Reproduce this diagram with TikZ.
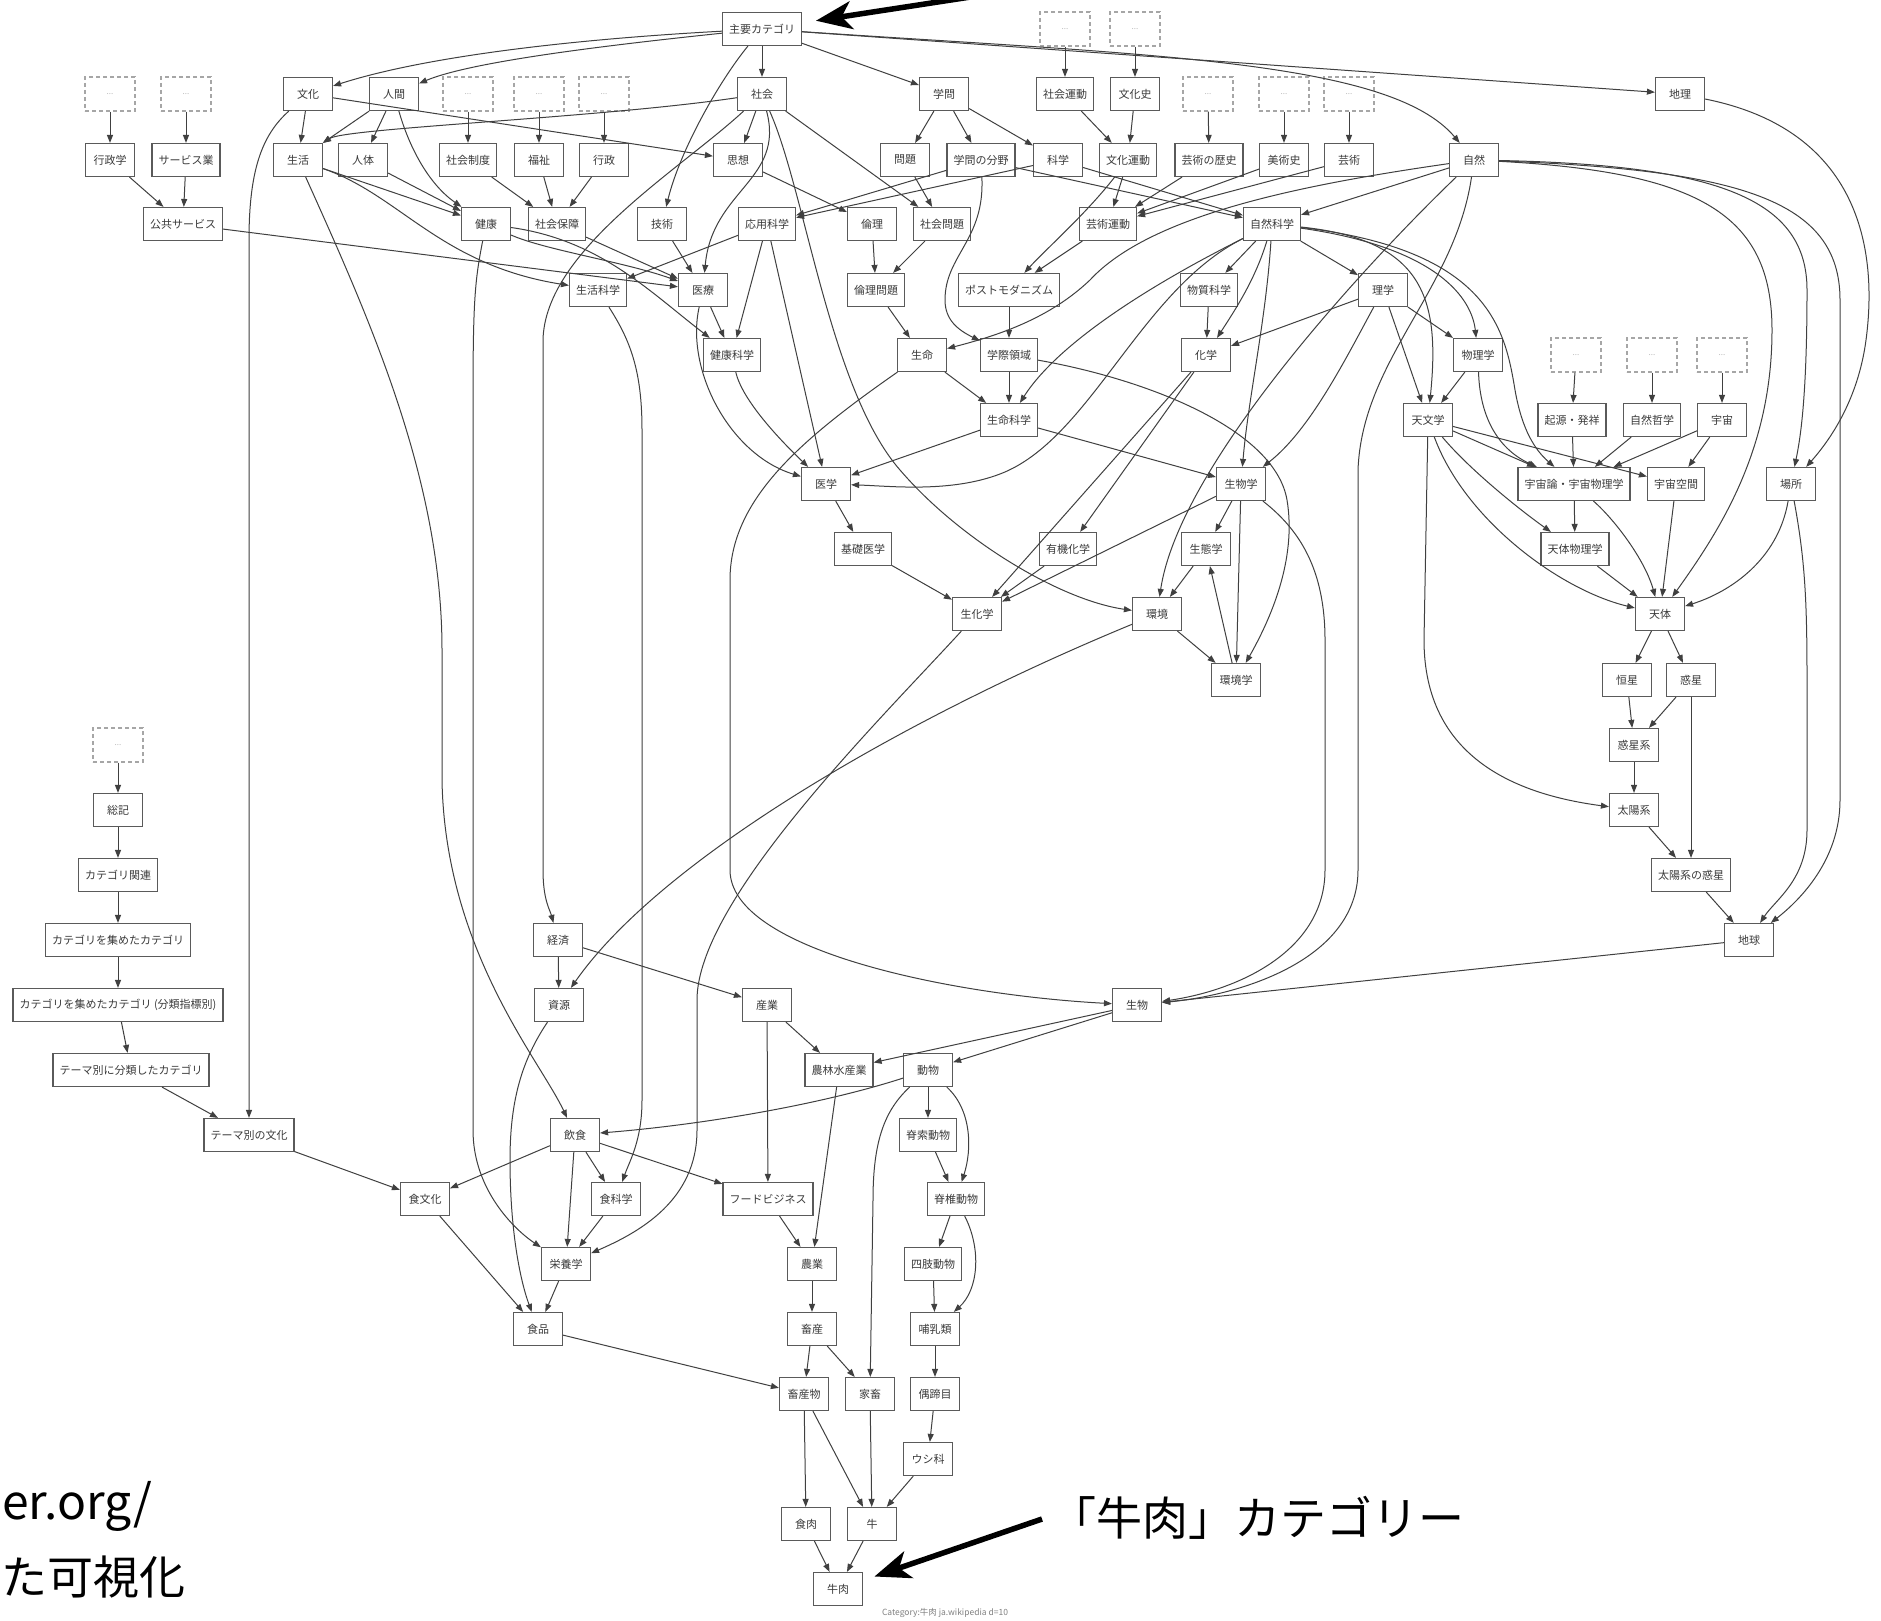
\documentclass[tikz,border=0pt]{standalone}
\usepackage{fontspec}
\newfontfamily\jp{Noto Sans CJK JP}
\usetikzlibrary{arrows.meta}
\definecolor{ndborder}{HTML}{5A5A5A}
\definecolor{ndtext}{HTML}{3A3A3A}
\definecolor{edcol}{HTML}{404040}
\begin{document}
\begin{tikzpicture}[x=1pt,y=-1pt,
  nd/.style={draw=ndborder, line width=1.2pt, rectangle, minimum width=49pt, minimum height=33pt,
    inner xsep=6.5pt, inner ysep=0pt, font=\jp\fontsize{11}{13}\selectfont, text=ndtext},
  dn/.style={draw=gray!70, line width=1.1pt, dash pattern=on 4pt off 3pt, rectangle, minimum width=50pt,
    minimum height=34pt, font=\jp\fontsize{8}{10}\selectfont, text=gray!55},
  ed/.style={draw=edcol, line width=1pt, -{Triangle[length=8pt,width=6pt]}},
  bigarrow/.style={draw=black, line width=5.5pt, -{Stealth[length=36pt,width=28pt,inset=10pt]}},
  big/.style={font=\jp\fontsize{46}{50}\selectfont, inner sep=0pt, text=black}]
\fill[white] (0,0) rectangle (1881,1621);
\useasboundingbox (0,0) rectangle (1881,1621);

% ---------- nodes ----------
\node[nd] (top) at (762,29) {主要カテゴリ};
\node[dn] (d6) at (1065,29) {...};
\node[dn] (d7) at (1135,29) {...};

\node[dn] (d1) at (110,94) {...};
\node[dn] (d2) at (186,94) {...};
\node[nd] (bunka) at (308,94) {文化};
\node[nd] (ningen) at (394,94) {人間};
\node[dn] (d3) at (468,94) {...};
\node[dn] (d4) at (539,94) {...};
\node[dn] (d5) at (604,94) {...};
\node[nd] (shakai) at (762,94) {社会};
\node[nd] (gakumon) at (944,94) {学問};
\node[nd] (shundo) at (1065,94) {社会運動};
\node[nd] (bunkashi) at (1135,94) {文化史};
\node[dn] (d8) at (1208,94) {...};
\node[dn] (d9) at (1284,94) {...};
\node[dn] (d10) at (1349,94) {...};
\node[nd] (chiri) at (1680,94) {地理};

\node[nd] (gyoseigaku) at (110,160) {行政学};
\node[nd] (service) at (186,160) {サービス業};
\node[nd] (seikatsu) at (298,160) {生活};
\node[nd] (jintai) at (363,160) {人体};
\node[nd] (seido) at (468,160) {社会制度};
\node[nd] (fukushi) at (539,160) {福祉};
\node[nd] (gyosei) at (604,160) {行政};
\node[nd] (shiso) at (738,160) {思想};
\node[nd] (mondai) at (905,160) {問題};
\node[nd] (bunya) at (981,160) {学問の分野};
\node[nd] (kagaku) at (1058,160) {科学};
\node[nd] (bundo) at (1128,160) {文化運動};
\node[nd] (geireki) at (1209,160) {芸術の歴史};
\node[nd] (bijutsushi) at (1284,160) {美術史};
\node[nd] (geijutsu) at (1349,160) {芸術};
\node[nd] (shizen) at (1474,160) {自然};

\node[nd] (kokyo) at (183,224) {公共サービス};
\node[nd] (kenko) at (486,224) {健康};
\node[nd] (hosho) at (557,224) {社会保障};
\node[nd] (gijutsu) at (662,224) {技術};
\node[nd] (oyo) at (767,224) {応用科学};
\node[nd] (rinri) at (872,224) {倫理};
\node[nd] (shamon) at (942,224) {社会問題};
\node[nd] (geiundo) at (1108,224) {芸術運動};
\node[nd] (shizenkagaku) at (1272,224) {自然科学};

\node[nd] (seikatsukagaku) at (598,290) {生活科学};
\node[nd] (iryo) at (703,290) {医療};
\node[nd] (rinrimondai) at (876,290) {倫理問題};
\node[nd] (postmodern) at (1009,290) {ポストモダニズム};
\node[nd] (busshitsu) at (1209,290) {物質科学};
\node[nd] (rigaku) at (1383,290) {理学};

\node[nd] (kenkokagaku) at (732,355) {健康科学};
\node[nd] (seimei) at (922,355) {生命};
\node[nd] (gakusai) at (1009,355) {学際領域};
\node[nd] (kagaku2) at (1206,355) {化学};
\node[nd] (butsuri) at (1478,355) {物理学};
\node[dn] (d11) at (1576,355) {...};
\node[dn] (d12) at (1652,355) {...};
\node[dn] (d13) at (1722,355) {...};

\node[nd] (seimeikagaku) at (1009,420) {生命科学};
\node[nd] (tenmon) at (1428,420) {天文学};
\node[nd] (kigen) at (1572,420) {起源・発祥};
\node[nd] (tetsugaku) at (1652,420) {自然哲学};
\node[nd] (uchu) at (1722,420) {宇宙};

\node[nd] (igaku) at (826,484) {医学};
\node[nd] (seibutsugaku) at (1241,484) {生物学};
\node[nd] (uchuron) at (1574,484) {宇宙論・宇宙物理学};
\node[nd] (kukan) at (1676,484) {宇宙空間};
\node[nd] (basho) at (1791,484) {場所};

\node[nd] (kiso) at (863,549) {基礎医学};
\node[nd] (yuki) at (1068,549) {有機化学};
\node[nd] (seitai) at (1206,549) {生態学};
\node[nd] (tentaibutsuri) at (1575,549) {天体物理学};

\node[nd] (seika) at (977,614) {生化学};
\node[nd] (kankyo) at (1157,614) {環境};
\node[nd] (tentai) at (1660,614) {天体};

\node[nd] (kankyogaku) at (1236,680) {環境学};
\node[nd] (kosei) at (1627,680) {恒星};
\node[nd] (wakusei) at (1691,680) {惑星};

\node[dn] (d14) at (118,745) {...};
\node[nd] (wakuseikei) at (1634,745) {惑星系};
\node[nd] (soki) at (118,810) {総記};
\node[nd] (taiyokei) at (1634,810) {太陽系};
\node[nd] (catrel) at (118,875) {カテゴリ関連};
\node[nd] (taiyowakusei) at (1691,875) {太陽系の惑星};
\node[nd] (catcol) at (118,940) {カテゴリを集めたカテゴリ};
\node[nd] (keizai) at (558,940) {経済};
\node[nd] (chikyu) at (1749,940) {地球};
\node[nd] (catidx) at (118,1005) {カテゴリを集めたカテゴリ (分類指標別)};
\node[nd] (shigen) at (559,1005) {資源};
\node[nd] (sangyo) at (767,1005) {産業};
\node[nd] (seibutsu) at (1137,1005) {生物};
\node[nd] (themecat) at (131,1070) {テーマ別に分類したカテゴリ};
\node[nd] (norin) at (839,1070) {農林水産業};
\node[nd] (dobutsu) at (928,1070) {動物};
\node[nd] (themebunka) at (249,1135) {テーマ別の文化};
\node[nd] (inshoku) at (575,1135) {飲食};
\node[nd] (sekisaku) at (928,1135) {脊索動物};
\node[nd] (shokubunka) at (425,1199) {食文化};
\node[nd] (shokukagaku) at (616,1199) {食科学};
\node[nd] (food) at (768,1199) {フードビジネス};
\node[nd] (sekitsui) at (956,1199) {脊椎動物};
\node[nd] (eiyo) at (566,1264) {栄養学};
\node[nd] (nogyo) at (812,1264) {農業};
\node[nd] (shishi) at (933,1264) {四肢動物};
\node[nd] (shokuhin) at (538,1329) {食品};
\node[nd] (chikusan) at (812,1329) {畜産};
\node[nd] (honyu) at (935,1329) {哺乳類};
\node[nd] (chikusanbutsu) at (804,1394) {畜産物};
\node[nd] (kachiku) at (870,1394) {家畜};
\node[nd] (gutei) at (935,1394) {偶蹄目};
\node[nd] (ushika) at (928,1459) {ウシ科};
\node[nd] (shokuniku) at (806,1524) {食肉};
\node[nd] (ushi) at (872,1524) {牛};
\node[nd] (gyuniku) at (838,1589) {牛肉};

\node[font=\jp\fontsize{8.5}{10}\selectfont, text=gray, inner sep=0pt] (cap) at (945,1613) {Category:牛肉 ja.wikipedia d=10};

% ---------- edges ----------
\draw[ed] (d1) -- (gyoseigaku);
\draw[ed] (d2) -- (service);
\draw[ed] (d3) -- (seido);
\draw[ed] (d4) -- (fukushi);
\draw[ed] (d5) -- (gyosei);
\draw[ed] (d6) -- (shundo);
\draw[ed] (d7) -- (bunkashi);
\draw[ed] (d8) -- (geireki);
\draw[ed] (d9) -- (bijutsushi);
\draw[ed] (d10) -- (geijutsu);
\draw[ed] (d11) -- (kigen);
\draw[ed] (d12) -- (tetsugaku);
\draw[ed] (d13) -- (uchu);
\draw[ed] (d14) -- (soki);

\draw[ed] (top) .. controls (560,40) and (420,58) .. (bunka);
\draw[ed] (top) .. controls (600,46) and (470,62) .. (ningen);
\draw[ed] (top) .. controls (720,80) and (680,150) .. (gijutsu);
\draw[ed] (top) -- (shakai);
\draw[ed] (top) -- (gakumon);
\draw[ed] (top) -- (chiri);
\draw[ed] (top) .. controls (1150,55) and (1390,60) .. (shizen);

\draw[ed] (shakai) .. controls (600,118) and (345,128) .. (seikatsu);
\draw[ed] (shakai) -- (shiso);
\draw[ed] (shakai) .. controls (785,180) and (712,190) .. (iryo);
\draw[ed] (shakai) .. controls (805,190) and (830,390) .. (900,470) .. controls (960,540) and (1060,600) .. (kankyo);
\draw[ed] (shakai) -- (shamon);
\draw[ed] (shakai) .. controls (680,170) and (545,250) .. (543,340) -- (543,870) .. controls (543,900) and (550,910) .. (keizai);

\draw[ed] (bunka) -- (seikatsu);
\draw[ed] (bunka) -- (shiso);
\draw[ed] (bunka) .. controls (262,135) and (249,170) .. (249,240) -- (themebunka);

\draw[ed] (ningen) -- (seikatsu);
\draw[ed] (ningen) -- (jintai);
\draw[ed] (ningen) .. controls (410,150) and (430,185) .. (kenko);

\draw[ed] (seikatsu) -- (kenko);
\draw[ed] (seikatsu) .. controls (400,195) and (440,265) .. (seikatsukagaku);
\draw[ed] (seikatsu) .. controls (370,320) and (442,480) .. (442,650) -- (442,780) .. controls (445,950) and (540,1060) .. (inshoku);
\draw[ed] (jintai) -- (kenko);

\draw[ed] (kenko) .. controls (545,250) and (625,262) .. (iryo);
\draw[ed] (kenko) .. controls (600,240) and (650,292) .. (kenkokagaku);
\draw[ed] (kenko) .. controls (475,280) and (473,300) .. (473,400) -- (473,1130) .. controls (473,1190) and (515,1230) .. (eiyo);
\draw[ed] (hosho) -- (iryo);
\draw[ed] (kokyo) -- (iryo);
\draw[ed] (gyoseigaku) -- (kokyo);
\draw[ed] (service) -- (kokyo);
\draw[ed] (seido) -- (hosho);
\draw[ed] (fukushi) -- (hosho);
\draw[ed] (gyosei) -- (hosho);

\draw[ed] (gakumon) -- (mondai);
\draw[ed] (gakumon) -- (bunya);
\draw[ed] (gakumon) -- (kagaku);
\draw[ed] (bunya) -- (oyo);
\draw[ed] (kagaku) -- (oyo);
\draw[ed] (bunya) -- (shizenkagaku);
\draw[ed] (kagaku) -- (shizenkagaku);
\draw[ed] (bunya) .. controls (985,240) and (945,255) .. (945,300) .. controls (945,320) and (958,330) .. (gakusai);
\draw[ed] (mondai) -- (shamon);
\draw[ed] (shiso) -- (rinri);
\draw[ed] (rinri) -- (rinrimondai);
\draw[ed] (shamon) -- (rinrimondai);
\draw[ed] (rinrimondai) -- (seimei);
\draw[ed] (shundo) -- (bundo);
\draw[ed] (bunkashi) -- (bundo);
\draw[ed] (bundo) -- (geiundo);
\draw[ed] (geireki) -- (geiundo);
\draw[ed] (bijutsushi) -- (geiundo);
\draw[ed] (geijutsu) -- (geiundo);
\draw[ed] (bundo) .. controls (1085,215) and (1045,250) .. (postmodern);
\draw[ed] (geiundo) -- (postmodern);
\draw[ed] (postmodern) -- (gakusai);

\draw[ed] (gijutsu) -- (iryo);
\draw[ed] (oyo) -- (seikatsukagaku);
\draw[ed] (oyo) -- (kenkokagaku);
\draw[ed] (oyo) -- (igaku);
\draw[ed] (iryo) -- (kenkokagaku);
\draw[ed] (iryo) .. controls (685,370) and (730,455) .. (igaku);
\draw[ed] (kenkokagaku) .. controls (742,400) and (780,440) .. (igaku);
\draw[ed] (seimei) -- (seimeikagaku);
\draw[ed] (gakusai) -- (seimeikagaku);
\draw[ed] (shizenkagaku) .. controls (1160,280) and (1060,340) .. (seimeikagaku);
\draw[ed] (shizenkagaku) .. controls (1140,290) and (1090,440) .. (1000,474) .. controls (950,493) and (890,486) .. (igaku);
\draw[ed] (seimeikagaku) -- (igaku);
\draw[ed] (seimeikagaku) -- (seibutsugaku);
\draw[ed] (igaku) -- (kiso);
\draw[ed] (kiso) -- (seika);

\draw[ed] (shizen) -- (shizenkagaku);
\draw[ed] (shizen) .. controls (1300,185) and (1150,215) .. (1090,280) .. controls (1050,318) and (1000,335) .. (seimei);
\draw[ed] (shizen) .. controls (1380,250) and (1180,460) .. (kankyo);
\draw[ed] (shizen) .. controls (1455,290) and (1362,360) .. (1358,470) -- (1358,870) .. controls (1358,960) and (1240,995) .. (seibutsu);
\draw[ed] (shizen) .. controls (1700,172) and (1772,215) .. (1772,330) .. controls (1772,450) and (1720,530) .. (tentai);
\draw[ed] (shizen) .. controls (1720,165) and (1807,200) .. (1807,290) .. controls (1807,400) and (1800,440) .. (basho);
\draw[ed] (shizen) .. controls (1740,170) and (1840,200) .. (1840,300) -- (1840,800) .. controls (1840,860) and (1800,900) .. (chikyu);
\draw[ed] (chiri) .. controls (1860,130) and (1878,250) .. (1866,340) .. controls (1858,400) and (1830,440) .. (basho);
\draw[ed] (basho) .. controls (1778,560) and (1730,592) .. (tentai);
\draw[ed] (basho) .. controls (1805,560) and (1807,600) .. (1807,680) -- (1807,830) .. controls (1807,880) and (1775,900) .. (chikyu);

\draw[ed] (shizenkagaku) -- (busshitsu);
\draw[ed] (shizenkagaku) .. controls (1255,280) and (1235,310) .. (kagaku2);
\draw[ed] (shizenkagaku) -- (rigaku);
\draw[ed] (shizenkagaku) .. controls (1425,240) and (1440,300) .. (tenmon);
\draw[ed] (shizenkagaku) .. controls (1440,248) and (1472,300) .. (butsuri);
\draw[ed] (shizenkagaku) .. controls (1490,250) and (1505,330) .. (1515,390) .. controls (1522,430) and (1535,450) .. (uchuron);
\draw[ed] (shizenkagaku) .. controls (1266,320) and (1248,400) .. (seibutsugaku);

\draw[ed] (rigaku) -- (butsuri);
\draw[ed] (rigaku) -- (tenmon);
\draw[ed] (rigaku) -- (kagaku2);
\draw[ed] (rigaku) .. controls (1345,360) and (1310,430) .. (seibutsugaku);
\draw[ed] (butsuri) -- (tenmon);
\draw[ed] (butsuri) .. controls (1480,420) and (1500,450) .. (uchuron);

\draw[ed] (tenmon) -- (uchuron);
\draw[ed] (tenmon) -- (kukan);
\draw[ed] (tenmon) .. controls (1470,470) and (1520,510) .. (tentaibutsuri);
\draw[ed] (tenmon) .. controls (1465,520) and (1560,590) .. (tentai);
\draw[ed] (tenmon) -- (1424,640) .. controls (1424,760) and (1520,795) .. (taiyokei);
\draw[ed] (kigen) -- (uchuron);
\draw[ed] (tetsugaku) -- (uchuron);
\draw[ed] (uchu) -- (uchuron);
\draw[ed] (uchu) -- (kukan);
\draw[ed] (uchuron) -- (tentaibutsuri);
\draw[ed] (uchuron) .. controls (1615,520) and (1645,560) .. (tentai);
\draw[ed] (kukan) -- (tentai);
\draw[ed] (tentaibutsuri) -- (tentai);
\draw[ed] (tentai) -- (kosei);
\draw[ed] (tentai) -- (wakusei);
\draw[ed] (kosei) -- (wakuseikei);
\draw[ed] (wakusei) -- (wakuseikei);
\draw[ed] (wakuseikei) -- (taiyokei);
\draw[ed] (taiyokei) -- (taiyowakusei);
\draw[ed] (wakusei) -- (taiyowakusei);
\draw[ed] (taiyowakusei) -- (chikyu);
\draw[ed] (chikyu) -- (seibutsu);

\draw[ed] (busshitsu) -- (kagaku2);
\draw[ed] (kagaku2) -- (yuki);
\draw[ed] (kagaku2) -- (seika);
\draw[ed] (yuki) -- (seika);

\draw[ed] (seibutsugaku) -- (seitai);
\draw[ed] (seibutsugaku) -- (kankyogaku);
\draw[ed] (seibutsugaku) -- (seika);
\draw[ed] (seibutsugaku) .. controls (1300,530) and (1325,570) .. (1325,640) -- (1325,870) .. controls (1325,950) and (1240,990) .. (seibutsu);
\draw[ed] (seitai) -- (kankyo);
\draw[ed] (kankyogaku) -- (seitai);
\draw[ed] (kankyo) -- (kankyogaku);
\draw[ed] (gakusai) .. controls (1150,380) and (1275,430) .. (1287,500) .. controls (1297,560) and (1270,620) .. (kankyogaku);
\draw[ed] (kankyo) .. controls (900,720) and (660,860) .. (shigen);
\draw[ed] (seika) .. controls (880,720) and (697,900) .. (697,1000) -- (697,1130) .. controls (697,1200) and (640,1232) .. (eiyo);
\draw[ed] (seimei) .. controls (800,440) and (730,500) .. (730,580) -- (730,870) .. controls (730,950) and (950,995) .. (seibutsu);

\draw[ed] (seibutsu) -- (norin);
\draw[ed] (seibutsu) -- (dobutsu);
\draw[ed] (keizai) -- (shigen);
\draw[ed] (keizai) -- (sangyo);
\draw[ed] (shigen) .. controls (522,1060) and (510,1100) .. (510,1160) .. controls (510,1230) and (520,1280) .. (shokuhin);
\draw[ed] (sangyo) -- (norin);
\draw[ed] (sangyo) -- (food);
\draw[ed] (norin) -- (nogyo);
\draw[ed] (dobutsu) .. controls (820,1105) and (700,1125) .. (inshoku);
\draw[ed] (dobutsu) -- (sekisaku);
\draw[ed] (dobutsu) .. controls (972,1110) and (972,1150) .. (sekitsui);
\draw[ed] (dobutsu) .. controls (885,1110) and (873,1140) .. (873,1200) -- (kachiku);
\draw[ed] (sekisaku) -- (sekitsui);
\draw[ed] (sekitsui) -- (shishi);
\draw[ed] (sekitsui) .. controls (982,1250) and (978,1290) .. (honyu);
\draw[ed] (shishi) -- (honyu);
\draw[ed] (honyu) -- (gutei);
\draw[ed] (gutei) -- (ushika);
\draw[ed] (ushika) -- (ushi);
\draw[ed] (kachiku) -- (ushi);
\draw[ed] (chikusanbutsu) -- (ushi);
\draw[ed] (chikusanbutsu) -- (shokuniku);
\draw[ed] (shokuniku) -- (gyuniku);
\draw[ed] (ushi) -- (gyuniku);
\draw[ed] (nogyo) -- (chikusan);
\draw[ed] (chikusan) -- (chikusanbutsu);
\draw[ed] (chikusan) -- (kachiku);
\draw[ed] (food) -- (nogyo);
\draw[ed] (shokuhin) -- (chikusanbutsu);

\draw[ed] (inshoku) -- (shokubunka);
\draw[ed] (inshoku) -- (eiyo);
\draw[ed] (inshoku) -- (shokukagaku);
\draw[ed] (inshoku) -- (food);
\draw[ed] (shokukagaku) -- (eiyo);
\draw[ed] (shokubunka) -- (shokuhin);
\draw[ed] (eiyo) -- (shokuhin);
\draw[ed] (themebunka) -- (shokubunka);
\draw[ed] (themecat) -- (themebunka);
\draw[ed] (seikatsukagaku) .. controls (630,340) and (642,370) .. (642,430) -- (642,1100) .. controls (642,1140) and (630,1160) .. (shokukagaku);

\draw[ed] (soki) -- (catrel);
\draw[ed] (catrel) -- (catcol);
\draw[ed] (catcol) -- (catidx);
\draw[ed] (catidx) -- (themecat);

% ---------- annotations ----------
\node[big, anchor=west] (annot) at (1050,1518) {「牛肉」カテゴリー};
\node[big, anchor=base east, font=\jp\fontsize{48}{52}\selectfont] (url) at (153,1519) {er.org/};
\node[big, anchor=east] (vis) at (186,1577) {た可視化};
\coordinate (a1s) at (990,-6);
\coordinate (a2s) at (1042,1519);
\draw[bigarrow, shorten >=14pt] (a1s) -- (top);
\draw[bigarrow, shorten >=12pt] (a2s) -- (gyuniku);
\end{tikzpicture}
\end{document}
